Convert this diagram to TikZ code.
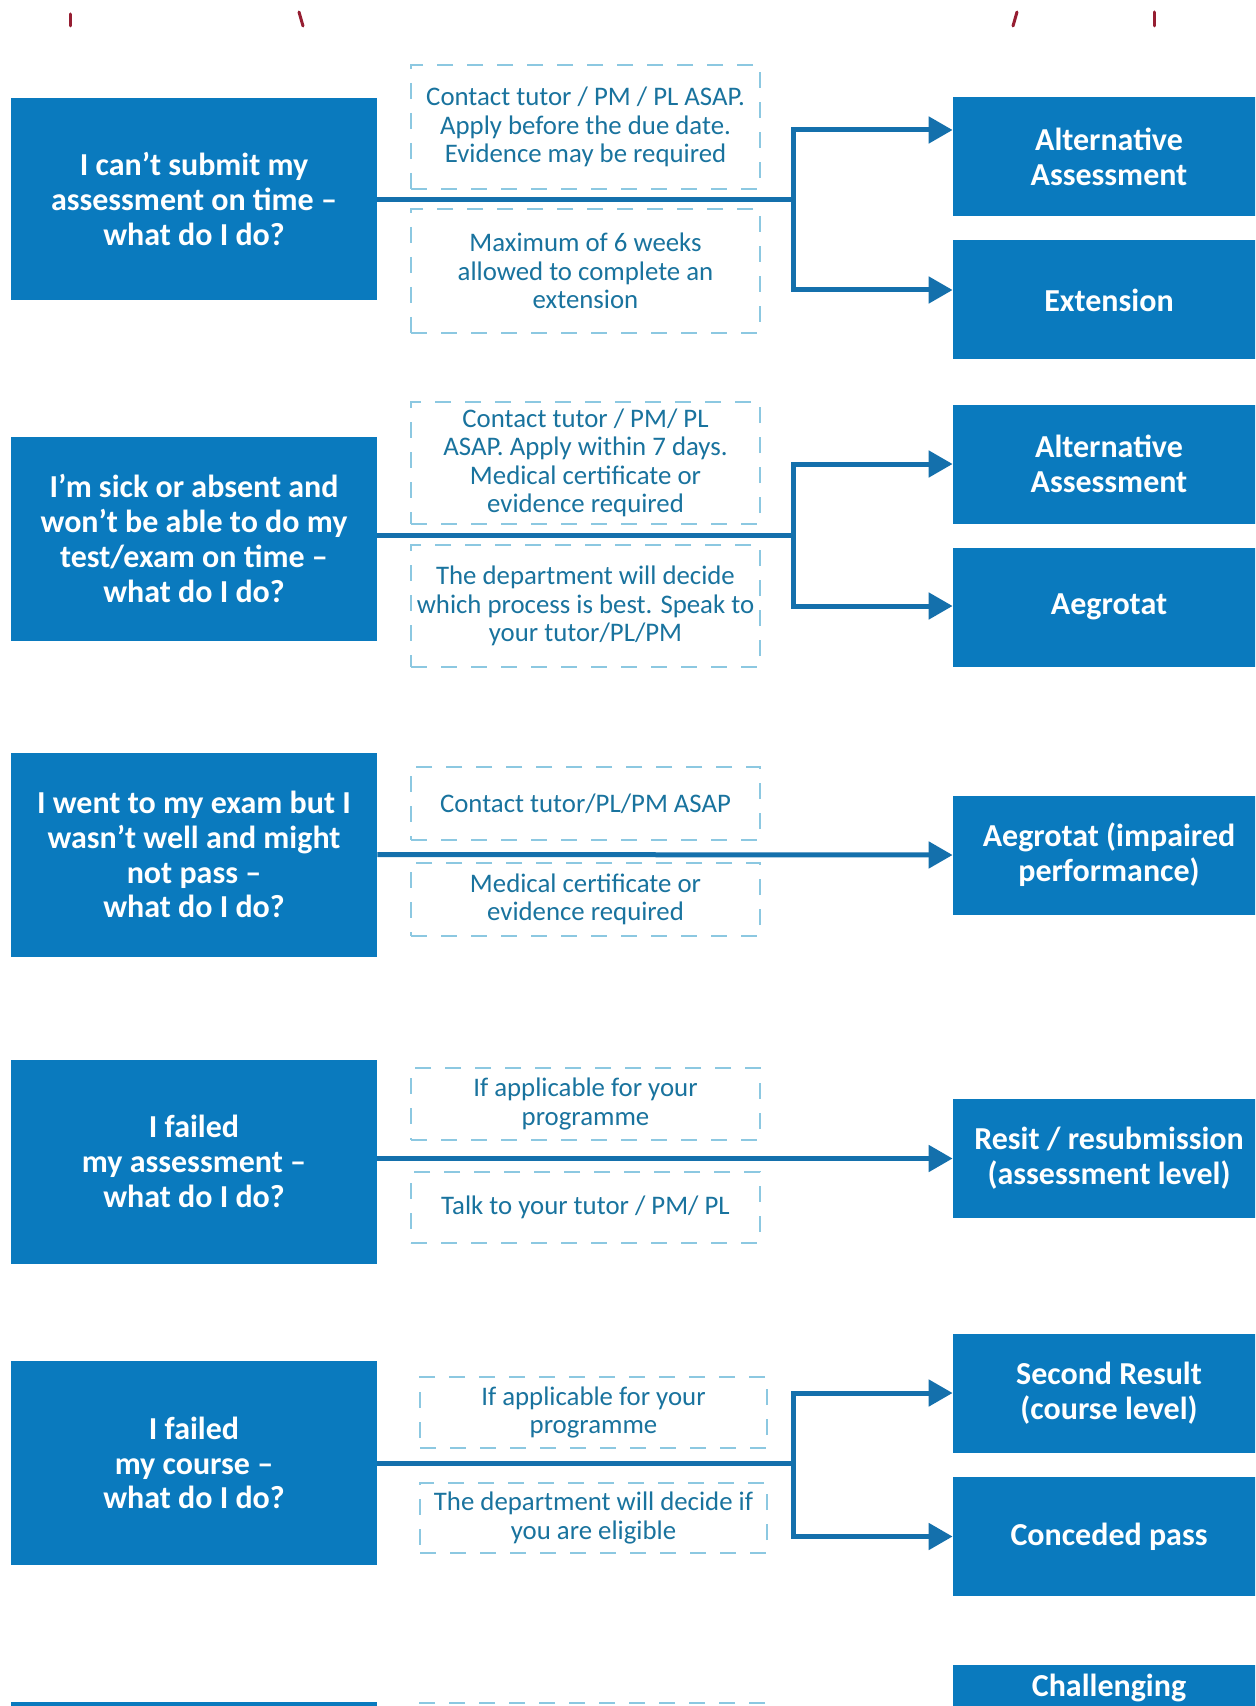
\documentclass[tikz,border=0pt]{standalone}
\usepackage{fontspec}
\setmainfont{Carlito}
\usetikzlibrary{arrows.meta}
\definecolor{boxblue}{RGB}{10,122,190}
\definecolor{lineblue}{RGB}{20,112,172}
\definecolor{dashblue}{RGB}{140,200,225}
\definecolor{noteblue}{RGB}{25,115,158}
\definecolor{markred}{RGB}{150,30,50}
\begin{document}
\begin{tikzpicture}[x=0.5pt,y=-0.5pt,
  qbox/.style={fill=boxblue, draw=none, text=white, font=\bfseries\fontsize{16}{17.4}\selectfont, align=center, minimum width=183pt, minimum height=102pt, inner sep=0pt},
  rbox/.style={fill=boxblue, draw=none, text=white, font=\bfseries\fontsize{16}{17.4}\selectfont, align=center, minimum width=156pt, minimum height=59.5pt, inner sep=0pt},
  note/.style={draw=dashblue, line width=1pt, dash pattern=on 8pt off 7pt, text=noteblue, font=\fontsize{13.4}{14.2}\selectfont, align=center, minimum width=174.5pt, inner sep=0pt},
  conn/.style={draw=lineblue, line width=2.5pt},
  arr/.style={conn, -{Triangle[length=12pt,width=13pt]}},
  redtick/.style={draw=markred, line width=1.5pt, line cap=round},
]
\useasboundingbox (0,0) rectangle (1255,1706);
\clip (0,0) rectangle (1255,1706);
\fill[white] (0,0) rectangle (1255,1706);

% cut-off title descenders
\draw[redtick] (70,14) -- (70,26);
\draw[redtick] (299,12) -- (303,26);
\draw[redtick] (1017,12) -- (1013,26);
\draw[redtick] (1154,12) -- (1154,26);

% ---------- Row 1 ----------
\node[qbox, minimum height=101pt] (q1) at (194,199) {I can’t submit my\\assessment on time –\\what do I do?};
\node[note, minimum height=62pt] (n1a) at (585.5,127) {Contact tutor / PM / PL ASAP.\\Apply before the due date.\\Evidence may be required};
\node[note, minimum height=62pt] (n1b) at (585.5,271) {Maximum of 6 weeks\\allowed to complete an\\extension};
\node[rbox] (r1a) at (1109,156.5) {Alternative\\Assessment};
\node[rbox] (r1b) at (1109,300) {Extension};
\coordinate (j1) at (793,200);
\draw[conn] (q1.east |- j1) -- (j1);
\draw[arr] (j1) |- ([yshift=13.25pt]r1a.west);
\draw[arr] (j1) |- ([yshift=5pt]r1b.west);

% ---------- Row 2 ----------
\node[qbox] (q2) at (194,538.5) {I’m sick or absent and\\won’t be able to do my\\test/exam on time –\\what do I do?};
\node[note, minimum height=61pt] (n2a) at (585.5,463) {Contact tutor / PM/ PL\\ASAP. Apply within 7 days.\\Medical certificate or\\evidence required};
\node[note, minimum height=61pt] (n2b) at (585.5,606) {The department will decide\\which process is best. Speak to\\your tutor/PL/PM};
\node[rbox] (r2a) at (1109,464) {Alternative\\Assessment};
\node[rbox] (r2b) at (1109,607) {Aegrotat};
\coordinate (j2) at (793,535);
\draw[conn] (q2.east |- j2) -- (j2);
\draw[arr] (j2) |- (r2a.west);
\draw[arr] (j2) |- ([yshift=0.5pt]r2b.west);

% ---------- Row 3 ----------
\node[qbox] (q3) at (194,854.5) {I went to my exam but I\\wasn’t well and might\\not pass –\\what do I do?};
\node[note, minimum height=36.5pt] (n3a) at (585.5,803.5) {Contact tutor/PL/PM ASAP};
\node[note, minimum height=36.5pt] (n3b) at (585.5,899.5) {Medical certificate or\\evidence required};
\node[rbox] (r3) at (1109,855) {Aegrotat (impaired\\performance)};
\draw[arr] (q3.east) -- (r3.west);

% ---------- Row 4 ----------
\node[qbox] (q4) at (194,1161.5) {I failed\\my assessment –\\what do I do?};
\node[note, minimum height=36pt] (n4a) at (585.5,1104) {If applicable for your\\programme};
\node[note, minimum height=35.5pt] (n4b) at (585.5,1207.5) {Talk to your tutor / PM/ PL};
\node[rbox] (r4) at (1109,1158.5) {Resit / resubmission\\(assessment level)};
\draw[arr] (q4.east |- r4.west) -- (r4.west);

% ---------- Row 5 ----------
\node[qbox] (q5) at (194,1463) {I failed\\my course –\\what do I do?};
\node[note, minimum width=173.5pt, minimum height=35.5pt] (n5a) at (593.5,1412.5) {If applicable for your\\programme};
\node[note, minimum width=173.5pt, minimum height=35pt] (n5b) at (593.5,1518) {The department will decide if\\you are eligible};
\node[rbox] (r5a) at (1109,1393) {Second Result\\(course level)};
\node[rbox] (r5b) at (1109,1536.5) {Conceded pass};
\coordinate (j5) at (793,1463);
\draw[conn] (q5.east |- j5) -- (j5);
\draw[arr] (j5) |- (r5a.west);
\draw[arr] (j5) |- (r5b.west);

% ---------- Row 6 (cut off) ----------
\node[qbox] (q6) at (194,1804) {};
\node[note, minimum width=173.5pt, minimum height=35.5pt] (n6a) at (593.5,1738) {};
\node[fill=boxblue, minimum width=156pt, minimum height=70pt, inner sep=0pt] (r6) at (1109,1735) {};
\node[text=white, font=\bfseries\fontsize{16}{17.4}\selectfont, inner sep=0pt] (r6t) at (1109,1688) {Challenging};
\end{tikzpicture}
\end{document}
